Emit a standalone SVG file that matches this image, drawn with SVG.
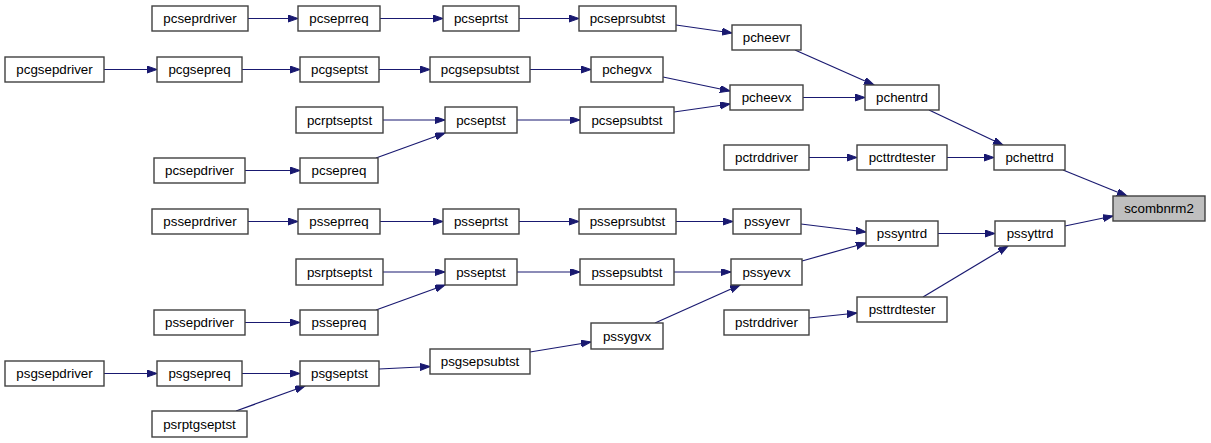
<svg xmlns="http://www.w3.org/2000/svg" width="1211" height="443" viewBox="0 0 1211 443">
<defs>
<marker id="ah" markerUnits="userSpaceOnUse" markerWidth="11" markerHeight="8" refX="10" refY="3.5" orient="auto">
<path d="M0,0 L10,3.5 L0,7 z" fill="#191970" stroke="#191970" stroke-width="1"/>
</marker>
<style>
.n rect{fill:#ffffff;stroke:#404040;stroke-width:1.4}
.n text{font-family:"Liberation Sans",Arial,sans-serif;font-size:13.33px;text-anchor:middle;fill:#000}
#scombnrm2 rect{fill:#bfbfbf}
#edges path{fill:none;stroke:#191970;stroke-width:1.2;marker-end:url(#ah)}
</style>
</defs>
<rect width="1211" height="443" fill="#ffffff"/>
<g id="edges">
<path d="M248,18.5 L298,18.5"/>
<path d="M380,18.5 L443,18.5"/>
<path d="M519,18.5 L579,18.5"/>
<path d="M676,25 L732,33"/>
<path d="M795,50 L874,85"/>
<path d="M104,69.5 L157,69.5"/>
<path d="M242,69.5 L300,69.5"/>
<path d="M379,69.5 L430,69.5"/>
<path d="M530,69.5 L591,69.5"/>
<path d="M663,77 L730,91"/>
<path d="M803,97.5 L865,97.5"/>
<path d="M383,120 L445,120"/>
<path d="M376,158 L445,133"/>
<path d="M245,170.5 L300,170.5"/>
<path d="M517,120 L580,120"/>
<path d="M674,112 L730,104"/>
<path d="M929,110 L1003,145"/>
<path d="M809,157.5 L857,157.5"/>
<path d="M947,157.5 L994,157.5"/>
<path d="M1063,170 L1127,196"/>
<path d="M1065,226 L1113,216"/>
<path d="M938,233.5 L995,233.5"/>
<path d="M923,297 L1008,246"/>
<path d="M809,318 L857,313"/>
<path d="M801,224 L866,232"/>
<path d="M802,261 L866,243"/>
<path d="M248,221.5 L298,221.5"/>
<path d="M380,221.5 L443,221.5"/>
<path d="M519,221.5 L579,221.5"/>
<path d="M676,221.5 L733,221.5"/>
<path d="M383,272 L445,272"/>
<path d="M376,310 L445,285"/>
<path d="M245,322.5 L300,322.5"/>
<path d="M517,272 L580,272"/>
<path d="M674,272 L731,272"/>
<path d="M655,323 L740,285"/>
<path d="M530,352 L591,342"/>
<path d="M379,369 L430,366.5"/>
<path d="M242,373.5 L300,373.5"/>
<path d="M104,373.5 L157,373.5"/>
<path d="M236,411 L305,386"/>
</g>
<g id="pcseprdriver" class="n"><rect x="152" y="6" width="96" height="25"/><text x="200" y="23.2">pcseprdriver</text></g>
<g id="pcseprreq" class="n"><rect x="298" y="6" width="82" height="25"/><text x="339" y="23.2">pcseprreq</text></g>
<g id="pcseprtst" class="n"><rect x="443" y="6" width="76" height="25"/><text x="481" y="23.2">pcseprtst</text></g>
<g id="pcseprsubtst" class="n"><rect x="579" y="6" width="97" height="25"/><text x="627.5" y="23.2">pcseprsubtst</text></g>
<g id="pcheevr" class="n"><rect x="732" y="25" width="69" height="25"/><text x="766.5" y="42.2">pcheevr</text></g>
<g id="pcgsepdriver" class="n"><rect x="5" y="57" width="99" height="25"/><text x="54.5" y="74.2">pcgsepdriver</text></g>
<g id="pcgsepreq" class="n"><rect x="157" y="57" width="85" height="25"/><text x="199.5" y="74.2">pcgsepreq</text></g>
<g id="pcgseptst" class="n"><rect x="300" y="57" width="79" height="25"/><text x="339.5" y="74.2">pcgseptst</text></g>
<g id="pcgsepsubtst" class="n"><rect x="430" y="57" width="100" height="25"/><text x="480" y="74.2">pcgsepsubtst</text></g>
<g id="pchegvx" class="n"><rect x="591" y="57" width="72" height="25"/><text x="627" y="74.2">pchegvx</text></g>
<g id="pcheevx" class="n"><rect x="730" y="85" width="73" height="25"/><text x="766.5" y="102.2">pcheevx</text></g>
<g id="pchentrd" class="n"><rect x="865" y="85" width="74" height="25"/><text x="902" y="102.2">pchentrd</text></g>
<g id="pcrptseptst" class="n"><rect x="296" y="107" width="87" height="26"/><text x="339.5" y="124.7">pcrptseptst</text></g>
<g id="pcseptst" class="n"><rect x="445" y="107" width="72" height="26"/><text x="481" y="124.7">pcseptst</text></g>
<g id="pcsepsubtst" class="n"><rect x="580" y="107" width="94" height="26"/><text x="627" y="124.7">pcsepsubtst</text></g>
<g id="pctrddriver" class="n"><rect x="724" y="145" width="85" height="25"/><text x="766.5" y="162.2">pctrddriver</text></g>
<g id="pcttrdtester" class="n"><rect x="857" y="145" width="90" height="25"/><text x="902" y="162.2">pcttrdtester</text></g>
<g id="pchettrd" class="n"><rect x="994" y="145" width="71" height="25"/><text x="1029.5" y="162.2">pchettrd</text></g>
<g id="pcsepdriver" class="n"><rect x="154" y="158" width="91" height="25"/><text x="199.5" y="175.2">pcsepdriver</text></g>
<g id="pcsepreq" class="n"><rect x="300" y="158" width="78" height="25"/><text x="339" y="175.2">pcsepreq</text></g>
<g id="scombnrm2" class="n"><rect x="1113" y="196" width="92" height="25"/><text x="1159" y="213.2">scombnrm2</text></g>
<g id="psseprdriver" class="n"><rect x="152" y="209" width="96" height="25"/><text x="200" y="226.2">psseprdriver</text></g>
<g id="psseprreq" class="n"><rect x="298" y="209" width="82" height="25"/><text x="339" y="226.2">psseprreq</text></g>
<g id="psseprtst" class="n"><rect x="443" y="209" width="76" height="25"/><text x="481" y="226.2">psseprtst</text></g>
<g id="psseprsubtst" class="n"><rect x="579" y="209" width="97" height="25"/><text x="627.5" y="226.2">psseprsubtst</text></g>
<g id="pssyevr" class="n"><rect x="733" y="209" width="68" height="25"/><text x="767" y="226.2">pssyevr</text></g>
<g id="pssyntrd" class="n"><rect x="866" y="221" width="72" height="25"/><text x="902" y="238.2">pssyntrd</text></g>
<g id="pssyttrd" class="n"><rect x="995" y="221" width="70" height="25"/><text x="1030" y="238.2">pssyttrd</text></g>
<g id="psrptseptst" class="n"><rect x="296" y="259" width="87" height="26"/><text x="339.5" y="276.7">psrptseptst</text></g>
<g id="psseptst" class="n"><rect x="445" y="259" width="72" height="26"/><text x="481" y="276.7">psseptst</text></g>
<g id="pssepsubtst" class="n"><rect x="580" y="259" width="94" height="26"/><text x="627" y="276.7">pssepsubtst</text></g>
<g id="pssyevx" class="n"><rect x="731" y="259" width="71" height="26"/><text x="766.5" y="276.7">pssyevx</text></g>
<g id="psttrdtester" class="n"><rect x="857" y="297" width="90" height="25"/><text x="902" y="314.2">psttrdtester</text></g>
<g id="pssepdriver" class="n"><rect x="154" y="310" width="91" height="25"/><text x="199.5" y="327.2">pssepdriver</text></g>
<g id="pssepreq" class="n"><rect x="300" y="310" width="78" height="25"/><text x="339" y="327.2">pssepreq</text></g>
<g id="pstrddriver" class="n"><rect x="724" y="310" width="85" height="25"/><text x="766.5" y="327.2">pstrddriver</text></g>
<g id="pssygvx" class="n"><rect x="591" y="323" width="72" height="26"/><text x="627" y="340.7">pssygvx</text></g>
<g id="psgsepsubtst" class="n"><rect x="430" y="349" width="100" height="25"/><text x="480" y="366.2">psgsepsubtst</text></g>
<g id="psgsepdriver" class="n"><rect x="5" y="361" width="99" height="25"/><text x="54.5" y="378.2">psgsepdriver</text></g>
<g id="psgsepreq" class="n"><rect x="157" y="361" width="85" height="25"/><text x="199.5" y="378.2">psgsepreq</text></g>
<g id="psgseptst" class="n"><rect x="300" y="361" width="79" height="25"/><text x="339.5" y="378.2">psgseptst</text></g>
<g id="psrptgseptst" class="n"><rect x="152" y="411" width="95" height="26"/><text x="199.5" y="428.7">psrptgseptst</text></g>
</svg>
